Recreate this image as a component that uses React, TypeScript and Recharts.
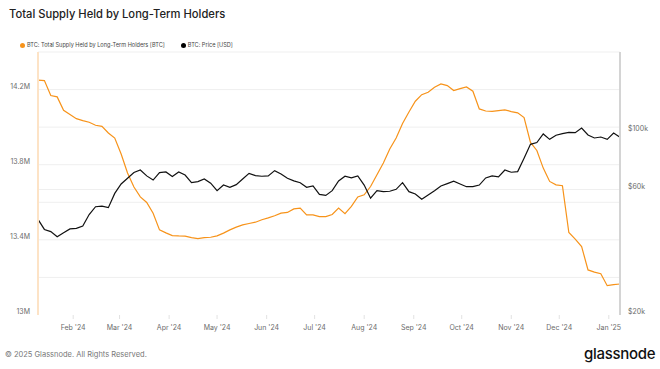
import { LineChart, Line, XAxis, YAxis, CartesianGrid } from 'recharts'

// x axis is "days since 1 Jan 2024", one reading every 4 days
const FIRST_DAY = 9
const STEP_DAYS = 4

// BTC held by long-term holders, in millions
const lthSupply = [
  14.25, 14.248, 14.168, 14.161, 14.09, 14.067, 14.045, 14.035, 14.026, 14.01,
  14.004, 13.969, 13.942, 13.857, 13.756, 13.681, 13.629, 13.599, 13.542, 13.453,
  13.437, 13.423, 13.421, 13.42, 13.412, 13.407, 13.412, 13.414, 13.421, 13.436,
  13.453, 13.468, 13.48, 13.487, 13.494, 13.507, 13.517, 13.528, 13.542, 13.546,
  13.565, 13.569, 13.533, 13.533, 13.524, 13.524, 13.535, 13.569, 13.539, 13.578,
  13.628, 13.64, 13.684, 13.747, 13.809, 13.884, 13.942, 14.019, 14.081, 14.138,
  14.173, 14.186, 14.212, 14.23, 14.221, 14.195, 14.205, 14.214, 14.191, 14.097,
  14.086, 14.084, 14.088, 14.092, 14.083, 14.076, 14.051, 13.919, 13.876, 13.782,
  13.711, 13.693, 13.688, 13.439, 13.404, 13.364, 13.24, 13.228, 13.22, 13.156,
  13.162, 13.165,
]

// BTC price in USD
const btcPrice = [
  46200, 42300, 41500, 39700, 41100, 42500, 42700, 43600, 48200, 51600,
  51900, 51200, 58000, 63000, 66200, 69600, 71200, 67600, 65200, 69600,
  70000, 67200, 70000, 68100, 63700, 64300, 65800, 63400, 59400, 62400,
  61200, 62600, 65800, 69100, 67800, 67400, 67600, 70800, 68700, 66200,
  64700, 63700, 61200, 61900, 57500, 57000, 59400, 64700, 67400, 66400,
  67600, 62400, 55600, 59400, 58900, 59100, 60100, 63700, 58900, 57700,
  55100, 57200, 59400, 61900, 63200, 64500, 63000, 61500, 61500, 62400,
  66400, 67600, 67000, 71200, 69800, 70200, 78900, 89100, 90500, 97600,
  93100, 96500, 97900, 99000, 98700, 102800, 96700, 94200, 95000, 93100,
  98400, 94800,
]

const monthTicks = [31, 60, 91, 121, 152, 182, 213, 244, 274, 305, 335, 366]
const monthLabels = [
  "Feb '24", "Mar '24", "Apr '24", "May '24", "Jun '24", "Jul '24",
  "Aug '24", "Sep '24", "Oct '24", "Nov '24", "Dec '24", "Jan '25",
]

const supplyTicks = [13, 13.4, 13.8, 14.2]
const supplyGrid = [13.2, 13.4, 13.6, 13.8, 14.0, 14.2, 14.4]
const priceTicks = [20000, 60000, 100000]

const data = lthSupply.map((supply, i) => ({
  day: FIRST_DAY + i * STEP_DAYS,
  supply,
  price: btcPrice[i],
}))

const FONT = 'Inter, "Noto Sans", sans-serif'
const tickStyle = { fontSize: 7, fill: '#6b6b6b', fontFamily: FONT }

// y labels sit a little above their grid line in the original
const SideTick = ({ x, y, payload, anchor, format }: any) => (
  <text x={x} y={y - 3} dy="0.35em" textAnchor={anchor} {...tickStyle}>
    {format(payload.value)}
  </text>
)

export default function App() {
  return (
    <div
      style={{
        position: 'absolute',
        left: 0,
        top: 0,
        width: 660,
        height: 369,
        background: '#fff',
        fontFamily: FONT,
      }}
    >
      <div style={{ position: 'absolute', left: 9, top: 7, fontSize: 11.2, fontWeight: 500, color: '#222' }}>
        Total Supply Held by Long-Term Holders
      </div>

      <div
        style={{
          position: 'absolute',
          left: 20,
          top: 42,
          fontSize: 5.6,
          color: '#444',
          display: 'flex',
          alignItems: 'center',
          whiteSpace: 'nowrap',
        }}
      >
        <span style={{ width: 5, height: 5, borderRadius: 3, background: '#f7931a', marginRight: 2 }} />
        <span style={{ marginRight: 16 }}>BTC: Total Supply Held by Long-Term Holders [BTC]</span>
        <span style={{ width: 5, height: 5, borderRadius: 3, background: '#000', marginRight: 2 }} />
        <span>BTC: Price [USD]</span>
      </div>

      <LineChart
        width={660}
        height={369}
        data={data}
        margin={{ top: 52, right: 0, bottom: 34, left: 8 }}
      >
        <CartesianGrid yAxisId="supply" vertical={false} horizontalValues={supplyGrid} stroke="#efefef" />
        <CartesianGrid yAxisId="price" vertical={false} horizontalValues={[60000]} stroke="#efefef" />
        <XAxis
          dataKey="day"
          type="number"
          domain={[9, 373]}
          ticks={monthTicks}
          interval={0}
          tickFormatter={(v) => monthLabels[monthTicks.indexOf(v)]}
          axisLine={false}
          tickLine={{ stroke: '#e2e2e2' }}
          tickSize={4}
          tickMargin={6}
          height={20}
          tick={tickStyle}
        />
        <YAxis
          yAxisId="supply"
          orientation="left"
          width={30}
          type="number"
          domain={[13, 14.4]}
          ticks={supplyTicks}
          axisLine={{ stroke: '#fde3c6', strokeWidth: 2 }}
          tickLine={false}
          tick={<SideTick anchor="end" format={(v: number) => `${v}M`} />}
        />
        <YAxis
          yAxisId="price"
          orientation="right"
          width={40}
          type="number"
          scale="log"
          domain={[20000, 200000]}
          ticks={priceTicks}
          axisLine={{ stroke: '#d4d4d4', strokeWidth: 2 }}
          tickLine={false}
          tick={<SideTick anchor="start" format={(v: number) => `$${v / 1000}k`} />}
        />
        <Line
          yAxisId="supply"
          type="linear"
          dataKey="supply"
          stroke="#f7931a"
          strokeWidth={1.2}
          dot={false}
          isAnimationActive={false}
        />
        <Line
          yAxisId="price"
          type="linear"
          dataKey="price"
          stroke="#111"
          strokeWidth={1.2}
          dot={false}
          isAnimationActive={false}
        />
      </LineChart>

      <div style={{ position: 'absolute', left: 5, top: 350, fontSize: 7.5, color: '#777' }}>
        © 2025 Glassnode. All Rights Reserved.
      </div>
      <div
        style={{
          position: 'absolute',
          left: 584,
          top: 344,
          fontSize: 15,
          fontWeight: 500,
          color: '#111',
          letterSpacing: -0.3,
        }}
      >
        glassnode
      </div>
    </div>
  )
}
